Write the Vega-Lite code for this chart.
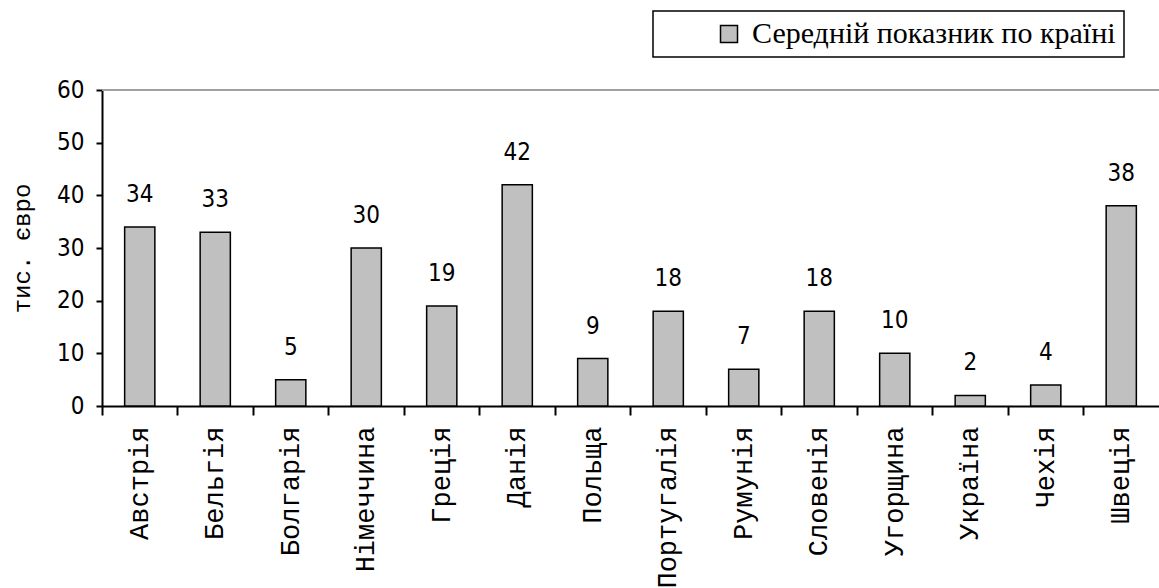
{
  "$schema": "https://vega.github.io/schema/vega-lite/v6.json",
  "width": 1057,
  "height": 316,
  "autosize": {"type": "none"},
  "padding": {"left": 102, "top": 90, "right": 0, "bottom": 182},
  "background": "white",
  "config": {
    "view": {"stroke": null},
    "axisY": {
      "domainColor": "black", "domainWidth": 2,
      "tickColor": "black", "tickWidth": 2, "tickSize": 6,
      "labelFont": "DejaVu Sans Condensed", "labelFontSize": 24, "labelColor": "black", "labelPadding": 12,
      "grid": false,
      "values": [0, 10, 20, 30, 40, 50, 60],
      "titleFont": "Liberation Mono", "titleFontSize": 24, "titleFontWeight": "normal", "titleColor": "black", "titlePadding": 22
    },
    "legend": {
      "strokeColor": "black", "strokeWidth": 1.5, "fillColor": "white", "padding": 8,
      "symbolType": "square", "symbolSize": 289, "symbolStrokeColor": "black", "symbolStrokeWidth": 1.5,
      "symbolOffset": 53, "labelOffset": 8,
      "labelFont": "Liberation Serif", "labelFontSize": 30, "labelColor": "black", "labelLimit": 0
    }
  },
  "data": {
    "values": [
      {"country": "Австрія", "value": 34},
      {"country": "Бельгія", "value": 33},
      {"country": "Болгарія", "value": 5},
      {"country": "Німеччина", "value": 30},
      {"country": "Греція", "value": 19},
      {"country": "Данія", "value": 42},
      {"country": "Польща", "value": 9},
      {"country": "Португалія", "value": 18},
      {"country": "Румунія", "value": 7},
      {"country": "Словенія", "value": 18},
      {"country": "Угорщина", "value": 10},
      {"country": "Україна", "value": 2},
      {"country": "Чехія", "value": 4},
      {"country": "Швеція", "value": 38}
    ]
  },
  "layer": [
    {
      "mark": {"type": "rule", "color": "#a0a0a0", "strokeWidth": 2},
      "encoding": {
        "y": {"datum": 60, "type": "quantitative", "scale": {"domain": [0, 60]}, "title": "тис. євро"}
      }
    },
    {
      "mark": {"type": "bar", "width": {"band": 0.4}, "stroke": "black", "strokeWidth": 1.5},
      "encoding": {
        "x": {
          "field": "country", "type": "nominal", "sort": null,
          "scale": {"paddingInner": 0, "paddingOuter": 0},
          "axis": {"orient": "bottom", "bandPosition": 0, "labels": false, "ticks": true, "tickSize": 9, "tickColor": "black", "tickWidth": 2, "domain": true, "domainColor": "black", "domainWidth": 2, "title": null, "grid": false}
        },
        "y": {"field": "value", "type": "quantitative", "scale": {"domain": [0, 60]}, "title": "тис. євро"},
        "fill": {
          "datum": "Середній показник по країні", "type": "nominal",
          "scale": {"range": ["#c0c0c0"]},
          "legend": {"orient": "none", "legendX": 551, "legendY": -79, "title": null, "labelExpr": "datum.label + '\u00a0\u00a0\u00a0\u00a0\u00a0\u00a0\u00a0\u00a0\u00a0\u00a0\u00a0\u00a0'"}
        }
      }
    },
    {
      "mark": {"type": "text", "font": "DejaVu Sans Condensed", "fontSize": 24, "color": "black", "baseline": "alphabetic", "dy": -25},
      "encoding": {
        "x": {
          "field": "country", "type": "nominal", "sort": null,
          "axis": {"orient": "bottom", "labels": true, "ticks": false, "domain": false, "labelAngle": -90, "labelFont": "Liberation Mono", "labelFontSize": 27, "labelColor": "black", "labelPadding": 20, "labelLimit": 0, "title": null, "grid": false}
        },
        "y": {"field": "value", "type": "quantitative", "scale": {"domain": [0, 60]}, "title": "тис. євро"},
        "text": {"field": "value", "type": "quantitative"}
      }
    }
  ],
  "resolve": {"axis": {"x": "independent"}}
}
